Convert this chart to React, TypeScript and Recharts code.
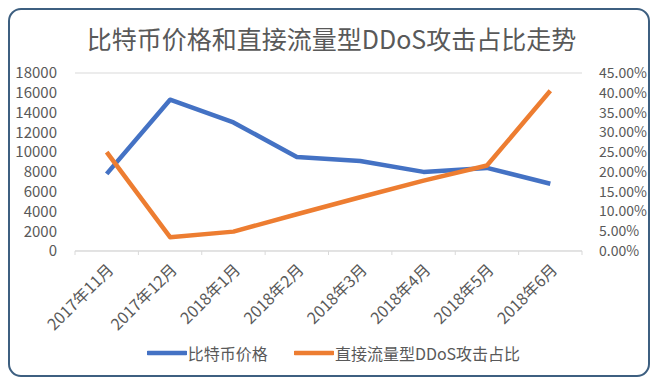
import { ComposedChart, Line, XAxis, YAxis, CartesianGrid, Legend } from 'recharts';

const months = ['2017年11月', '2017年12月', '2018年1月', '2018年2月', '2018年3月', '2018年4月', '2018年5月', '2018年6月'];
const btcPrice = [7800, 15300, 13000, 9500, 9100, 8000, 8400, 6800];
const ddosShare = [0.25, 0.035, 0.049, 0.093, 0.136, 0.178, 0.216, 0.405];
const priceTicks = [0, 2000, 4000, 6000, 8000, 10000, 12000, 14000, 16000, 18000];
const shareTicks = [0, 0.05, 0.1, 0.15, 0.2, 0.25, 0.3, 0.35, 0.4, 0.45];

const data = months.map((m, i) => ({ month: m, btc: btcPrice[i], ddos: ddosShare[i] }));

const W = 638;
const H = 365;
const LEFT_W = 65;
const RIGHT_W = 66;
const PLOT_W = W - LEFT_W - RIGHT_W;
const BAND = PLOT_W / months.length;
const INK = '#595959';
const FONT = '"Noto Sans CJK SC", "Noto Sans", sans-serif';

function MonthTick(props: any) {
  const { x, y, payload, index } = props;
  const last = index === months.length - 1;
  const tx = x + 4;
  const ty = y + 16;
  return (
    <g>
      <line x1={x - BAND / 2} x2={x - BAND / 2} y1={y} y2={y + 4} stroke="#d9d9d9" />
      {last && <line x1={x + BAND / 2} x2={x + BAND / 2} y1={y} y2={y + 4} stroke="#d9d9d9" />}
      <text
        x={tx}
        y={ty}
        transform={`rotate(-45 ${tx} ${ty})`}
        textAnchor="end"
        dy="0.35em"
        fill={INK}
        fontSize={16}
      >
        {payload.value}
      </text>
    </g>
  );
}

function LegendBox() {
  const items = [
    { name: '比特币价格', color: '#4472C4' },
    { name: '直接流量型DDoS攻击占比', color: '#ED7D31' },
  ];
  return (
    <div style={{ display: 'flex', justifyContent: 'center', paddingLeft: 9, height: 24, alignItems: 'center' }}>
      {items.map((it, i) => (
        <div key={it.name} style={{ display: 'flex', alignItems: 'center', marginLeft: i ? 26 : 0 }}>
          <svg width={40} height={8}>
            <line x1={1} x2={39} y1={4} y2={4} stroke={it.color} strokeWidth={4.5} strokeLinecap="round" />
          </svg>
          <span style={{ color: INK, fontSize: 16, marginLeft: 1, lineHeight: '24px' }}>{it.name}</span>
        </div>
      ))}
    </div>
  );
}

export default function App() {
  return (
    <div
      style={{
        position: 'relative',
        width: W,
        height: H,
        border: '2px solid #3d5f80',
        borderRadius: 13,
        background: '#fff',
        fontFamily: FONT,
      }}
    >
      <div
        style={{
          position: 'absolute',
          top: 12,
          left: 0,
          width: W,
          paddingLeft: 5,
          boxSizing: 'border-box',
          textAlign: 'center',
          fontSize: 25,
          lineHeight: '32px',
          color: INK,
        }}
      >
        比特币价格和直接流量型DDoS攻击占比走势
      </div>
      <ComposedChart width={W} height={H} data={data} margin={{ top: 63, right: 0, bottom: 10, left: 0 }}>
        <CartesianGrid vertical={false} stroke="#d9d9d9" />
        <XAxis
          dataKey="month"
          scale="band"
          interval={0}
          height={90}
          tickSize={0}
          tickMargin={0}
          axisLine={{ stroke: '#d9d9d9' }}
          tickLine={false}
          tick={<MonthTick />}
        />
        <YAxis
          yAxisId="left"
          width={LEFT_W}
          domain={[0, 18000]}
          ticks={priceTicks}
          interval={0}
          axisLine={false}
          tickLine={false}
          tickMargin={12}
          tick={{ fill: INK, fontSize: 15 }}
        />
        <YAxis
          yAxisId="right"
          orientation="right"
          width={RIGHT_W}
          domain={[0, 0.45]}
          ticks={shareTicks}
          interval={0}
          axisLine={false}
          tickLine={false}
          tickMargin={11}
          tick={{ fill: INK, fontSize: 14, textAnchor: 'start' }}
          tickFormatter={(v: number) => (v * 100).toFixed(2) + '%'}
        />
        <Line
          yAxisId="left"
          dataKey="btc"
          name="比特币价格"
          stroke="#4472C4"
          strokeWidth={4.5}
          strokeLinejoin="round"
          dot={false}
          activeDot={false}
          isAnimationActive={false}
        />
        <Line
          yAxisId="right"
          dataKey="ddos"
          name="直接流量型DDoS攻击占比"
          stroke="#ED7D31"
          strokeWidth={4.5}
          strokeLinejoin="round"
          dot={false}
          activeDot={false}
          isAnimationActive={false}
        />
        <Legend verticalAlign="bottom" height={24} content={<LegendBox />} />
      </ComposedChart>
    </div>
  );
}
